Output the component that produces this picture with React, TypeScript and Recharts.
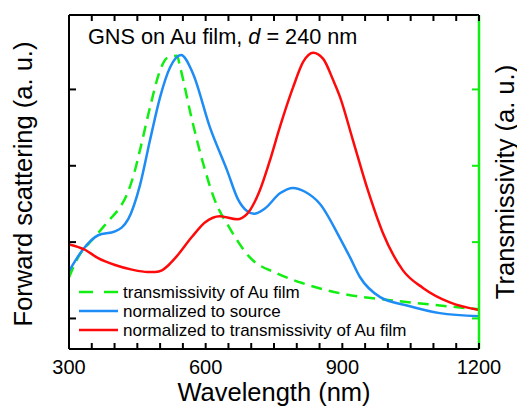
import React from 'react';
import { ComposedChart, Line, XAxis, YAxis } from 'recharts';

// wavelengths (nm) and values (a. u.)
const transWl = [300, 320, 357, 390, 410, 427, 442, 456, 478, 500, 515, 537, 544, 570, 594, 620, 653, 697, 757, 814, 895, 1005, 1114, 1200];
const transVal = [1.54, 1.80, 2.07, 2.30, 2.44, 2.62, 2.88, 3.21, 3.77, 4.25, 4.41, 4.44, 4.29, 3.60, 3.04, 2.55, 2.18, 1.80, 1.59, 1.46, 1.33, 1.24, 1.17, 1.12];

const srcWl = [300, 329, 364, 401, 430, 456, 478, 500, 522, 546, 572, 609, 647, 671, 690, 706, 730, 763, 792, 818, 851, 895, 917, 939, 983, 1042, 1114, 1200];
const srcVal = [1.62, 1.89, 2.09, 2.14, 2.30, 2.75, 3.34, 3.90, 4.29, 4.45, 4.21, 3.51, 2.94, 2.56, 2.41, 2.37, 2.44, 2.64, 2.71, 2.66, 2.50, 2.05, 1.80, 1.54, 1.28, 1.17, 1.07, 1.03];

const normWl = [300, 335, 364, 401, 438, 473, 490, 504, 517, 533, 570, 599, 631, 669, 691, 719, 740, 763, 792, 814, 836, 858, 880, 895, 923, 956, 989, 1033, 1077, 1136, 1200];
const normVal = [1.97, 1.90, 1.79, 1.70, 1.64, 1.61, 1.61, 1.63, 1.69, 1.79, 2.07, 2.26, 2.34, 2.30, 2.37, 2.68, 3.05, 3.51, 4.03, 4.36, 4.48, 4.40, 4.12, 3.90, 3.34, 2.68, 2.12, 1.63, 1.40, 1.21, 1.11];

const xTicks = [300, 350, 400, 450, 500, 550, 600, 650, 700, 750, 800, 850, 900, 950, 1000, 1050, 1100, 1150, 1200];
const xTickLabels = [300, 600, 900, 1200];
const yTicks = [1, 2, 3, 4];
const yDomain: [number, number] = [0.6, 4.975];

const GREEN = '#11ee11';
const BLUE = '#1e8cf5';
const RED = '#ff0a0a';
const FONT = '"Liberation Sans", Arial, sans-serif';

const toRows = (wl: number[], v: number[]) => wl.map((w, i) => ({ wl: w, v: v[i] }));
const transData = toRows(transWl, transVal);
const srcData = toRows(srcWl, srcVal);
const normData = toRows(normWl, normVal);

const seriesMeta = [
  { name: 'transmissivity of Au film', color: GREEN, dash: '11 7' },
  { name: 'normalized to source', color: BLUE, dash: undefined },
  { name: 'normalized to transmissivity of Au film', color: RED, dash: undefined },
];

const BottomTick = (props: any) => {
  const { x, y, payload } = props;
  const major = xTickLabels.includes(payload.value);
  return (
    <g>
      <line x1={x} x2={x} y1={y} y2={y - 6} stroke="#000" strokeWidth={2} />
      {major && (
        <text x={x} y={y + 25} textAnchor="middle" fontSize={20} fontFamily={FONT} fill="#000">
          {payload.value}
        </text>
      )}
    </g>
  );
};

const TopTick = (props: any) => {
  const { x, y } = props;
  return <line x1={x} x2={x} y1={y} y2={y + 6} stroke="#000" strokeWidth={2} />;
};

const LeftTick = (props: any) => {
  const { x, y } = props;
  return <line x1={x} x2={x + 7} y1={y} y2={y} stroke="#000" strokeWidth={2} />;
};

const RightTick = (props: any) => {
  const { x, y } = props;
  return <line x1={x} x2={x - 7} y1={y} y2={y} stroke={GREEN} strokeWidth={2} />;
};

export default function App() {
  return (
    <ComposedChart
      width={517}
      height={402}
      margin={{ top: 2, right: 26, bottom: 31, left: 41 }}
      style={{ overflow: 'visible' }}
    >
      <XAxis
        xAxisId="bottom"
        dataKey="wl"
        type="number"
        domain={[300, 1200]}
        ticks={xTicks}
        interval={0}
        height={30}
        tickSize={0}
        tickMargin={0}
        tickLine={false}
        axisLine={{ stroke: '#000', strokeWidth: 2 }}
        tick={<BottomTick />}
        allowDataOverflow
      />
      <XAxis
        xAxisId="top"
        orientation="top"
        dataKey="wl"
        type="number"
        domain={[300, 1200]}
        ticks={xTicks}
        interval={0}
        height={5}
        tickSize={0}
        tickMargin={0}
        tickLine={false}
        axisLine={{ stroke: '#000', strokeWidth: 2 }}
        tick={<TopTick />}
        allowDataOverflow
      />
      <YAxis
        yAxisId="left"
        type="number"
        domain={yDomain}
        ticks={yTicks}
        interval={0}
        width={20}
        tickSize={0}
        tickMargin={0}
        tickLine={false}
        axisLine={{ stroke: '#000', strokeWidth: 2 }}
        tick={<LeftTick />}
        allowDataOverflow
      />
      <YAxis
        yAxisId="right"
        orientation="right"
        type="number"
        domain={yDomain}
        ticks={yTicks}
        interval={0}
        width={20}
        tickSize={0}
        tickMargin={0}
        tickLine={false}
        axisLine={{ stroke: GREEN, strokeWidth: 2.5 }}
        tick={<RightTick />}
        allowDataOverflow
      />
      <Line
        xAxisId="bottom"
        yAxisId="right"
        data={transData}
        dataKey="v"
        name={seriesMeta[0].name}
        type="monotone"
        stroke={GREEN}
        strokeWidth={2.5}
        strokeDasharray={seriesMeta[0].dash}
        dot={false}
        isAnimationActive={false}
      />
      <Line
        xAxisId="bottom"
        yAxisId="left"
        data={srcData}
        dataKey="v"
        name={seriesMeta[1].name}
        type="monotone"
        stroke={BLUE}
        strokeWidth={2.5}
        dot={false}
        isAnimationActive={false}
      />
      <Line
        xAxisId="bottom"
        yAxisId="left"
        data={normData}
        dataKey="v"
        name={seriesMeta[2].name}
        type="monotone"
        stroke={RED}
        strokeWidth={2.5}
        dot={false}
        isAnimationActive={false}
      />
      <text x={80} y={36} fontSize={21.7} fontFamily={FONT} fill="#000">
        GNS on Au film, <tspan fontStyle="italic">d</tspan> = 240 nm
      </text>
      <text x={266} y={393} textAnchor="middle" fontSize={25.5} fontFamily={FONT} fill="#000">
        Wavelength (nm)
      </text>
      <text
        x={24}
        y={176}
        textAnchor="middle"
        fontSize={25.5}
        fontFamily={FONT}
        fill="#000"
        transform="rotate(-90 24 176)"
      >
        Forward scattering (a. u.)
      </text>
      <text
        x={506}
        y={174}
        textAnchor="middle"
        fontSize={25.5}
        fontFamily={FONT}
        fill="#000"
        transform="rotate(-90 506 174)"
      >
        Transmissivity (a. u.)
      </text>
      <g>
        {seriesMeta.map((s, i) => (
          <g key={s.name}>
            <line
              x1={71}
              x2={110}
              y1={284 + i * 19}
              y2={284 + i * 19}
              stroke={s.color}
              strokeWidth={2.5}
              strokeDasharray={s.dash ? '14 11' : undefined}
            />
            <text x={115} y={290 + i * 19} fontSize={17} fontFamily={FONT} fill="#000">
              {s.name}
            </text>
          </g>
        ))}
      </g>
    </ComposedChart>
  );
}
